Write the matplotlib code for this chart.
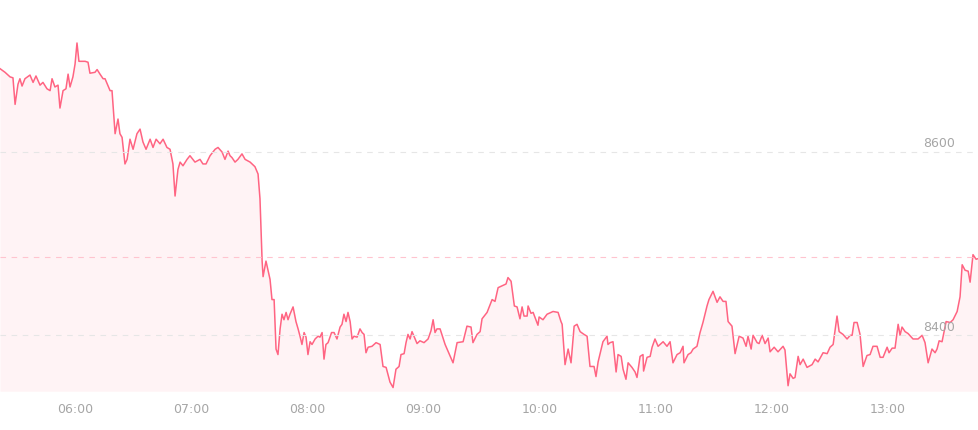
import numpy as np
import matplotlib.pyplot as plt

# minutes since 05:00 and price
minutes = [21.2, 23.8, 26.4, 27.9, 29.0, 30.5, 31.5, 32.6, 34.1, 36.7, 38.3, 39.8, 41.9, 43.4, 45.5, 47.1, 48.1, 49.6, 51.2, 52.2,
           53.8, 55.3, 56.4, 57.4, 58.9, 60.0, 61.0, 62.0, 65.2, 66.7, 67.7, 70.3, 71.4, 72.9, 74.5, 75.5, 78.1, 79.1, 80.7, 82.2,
           83.2, 84.3, 85.8, 86.9, 88.4, 90.0, 92.0, 93.6, 95.1, 96.7, 98.8, 100.3, 101.9, 103.9, 105.5, 107.5, 109.1, 110.6, 111.7, 113.2,
           114.3, 115.8, 117.9, 119.4, 122.0, 124.6, 126.1, 127.7, 129.8, 132.4, 133.9, 136.0, 137.5, 139.1, 140.1, 141.1, 142.7, 144.2, 146.3, 147.9,
           150.5, 153.0, 154.6,
           155.6, 156.7, 157.2, 158.7, 160.8, 161.8, 162.9, 163.9, 164.9, 166.0, 167.0, 168.0, 169.1, 170.1, 171.1, 172.7, 174.2, 175.3, 176.3, 177.3,
           178.4, 179.4, 180.4, 181.5, 182.5, 184.1, 185.6, 186.6, 187.7, 188.7, 189.7, 190.8, 192.6, 193.9, 195.4, 197.0, 198.0, 199.0, 200.1, 201.1,
           202.2, 203.2, 204.2, 205.8, 207.3, 208.4, 209.4, 210.4, 211.5, 213.5, 215.6, 217.7, 219.2, 220.8, 222.8, 224.4, 225.9, 227.5, 228.5, 230.1,
           231.1, 232.1, 233.2, 234.2, 235.2, 236.8, 238.3, 240.4, 242.5, 244.0, 245.1, 246.1, 247.1,
           248.7, 251.3, 255.4, 257.5, 260.6, 262.6, 264.7, 265.7, 267.8, 269.4, 270.4, 273.0, 275.6, 277.1, 278.7, 280.7, 282.8, 283.8, 285.4, 287.1,
           288.5, 290.0, 291.1, 292.1, 293.7, 294.2, 295.7, 296.8, 299.3, 299.9, 301.9, 304.0, 307.1, 309.7, 311.2, 311.8, 313.3, 314.9, 316.4, 318.0,
           319.5, 321.1, 323.1, 324.7, 326.2, 328.3, 329.3, 330.4, 332.9, 335.0, 335.5, 336.6, 338.1, 339.7, 340.7, 342.3, 343.3, 344.8, 345.9, 347.9,
           349.5, 350.5, 352.1, 353.6, 353.9, 355.7, 357.3, 358.3, 359.8, 361.4, 364.0, 366.0, 367.6, 369.1, 371.2, 372.8, 374.3, 374.8, 376.9, 378.4,
           379.5, 381.5, 383.1, 384.6, 386.7, 387.7,
           389.8, 391.9, 393.4, 395.0, 396.5, 397.6, 399.6, 401.2, 403.3, 405.3, 406.9, 407.9, 409.5, 410.5, 412.6, 413.6, 415.2, 416.7, 418.3, 419.3,
           421.4, 423.4, 426.0, 427.0, 428.6, 429.6, 431.2, 432.2, 433.8, 434.8, 436.4, 438.4, 441.0, 442.6, 444.1, 446.7, 448.8, 450.3, 451.9, 453.9,
           455.0, 457.0, 459.1, 460.7, 461.7, 462.7, 464.3, 465.8, 467.4, 469.4, 471.0, 472.5, 474.6, 476.2, 477.7, 479.8, 480.8, 482.4, 483.9, 485.5,
           486.5, 487.5, 489.1, 490.6, 493.2, 495.8, 497.9, 499.4, 501.0, 503.0, 504.6, 505.6, 506.7, 508.2, 510.3, 512.4, 513.9, 516.0, 517.5, 518.6,
           520.1, 521.7, 522.7, 524.2, 525.8, 527.3]
prices = [8691, 8687, 8682, 8681, 8652, 8674, 8680, 8672, 8680, 8684, 8676, 8683, 8673, 8676, 8669, 8667, 8680, 8671, 8673, 8648,
          8667, 8669, 8685, 8671, 8682, 8696, 8719, 8699, 8699, 8698, 8686, 8687, 8690, 8685, 8680, 8680, 8667, 8667, 8620, 8636,
          8620, 8616, 8587, 8592, 8614, 8603, 8620, 8625, 8611, 8603, 8614, 8605, 8614, 8609, 8614, 8605, 8603, 8587, 8552, 8581,
          8589, 8585, 8592, 8596, 8589, 8592, 8587, 8587, 8596, 8603, 8605, 8600, 8592, 8601, 8596, 8594, 8589, 8592, 8598, 8592,
          8589, 8584, 8576,
          8549, 8481, 8464, 8481, 8461, 8439, 8439, 8385, 8379, 8407, 8423, 8417, 8425, 8417, 8423, 8431, 8415, 8407, 8399, 8390,
          8403, 8398, 8379, 8393, 8390, 8396, 8399, 8398, 8403, 8374, 8390, 8392, 8403, 8403, 8396, 8409, 8412, 8423, 8415, 8425,
          8415, 8396, 8399, 8398, 8407, 8403, 8401, 8381, 8387, 8388, 8392, 8390, 8366, 8365, 8349, 8343, 8363, 8366, 8379, 8380,
          8392, 8401, 8396, 8404, 8399, 8391, 8394, 8392, 8396, 8405, 8417, 8403, 8407,
          8407, 8390, 8370, 8392, 8393, 8410, 8409, 8392, 8401, 8404, 8418, 8425, 8439, 8437, 8452, 8454, 8456, 8463, 8459, 8432,
          8431, 8418, 8431, 8421, 8421, 8432, 8424, 8425, 8411, 8420, 8417, 8423, 8426, 8425, 8415, 8412, 8368, 8385, 8370, 8410,
          8412, 8404, 8401, 8399, 8366, 8366, 8355, 8371, 8393, 8399, 8390, 8392, 8393, 8360, 8379, 8377, 8363, 8352, 8370, 8365,
          8360, 8354, 8377, 8379, 8361, 8376, 8377, 8387, 8396, 8388, 8393, 8388, 8393, 8370, 8379, 8381, 8388, 8370, 8379, 8381,
          8385, 8388, 8403, 8414, 8432, 8439,
          8448, 8436, 8442, 8437, 8437, 8415, 8410, 8380, 8399, 8397, 8388, 8399, 8385, 8400, 8392, 8391, 8400, 8391, 8397, 8382,
          8387, 8382, 8388, 8384, 8345, 8358, 8353, 8354, 8377, 8368, 8374, 8365, 8368, 8374, 8371, 8381, 8380, 8387, 8390, 8421,
          8404, 8401, 8396, 8400, 8400, 8414, 8414, 8401, 8366, 8378, 8379, 8388, 8388, 8376, 8376, 8387, 8381, 8386, 8386, 8412,
          8400, 8409, 8404, 8402, 8396, 8396, 8400, 8392, 8370, 8385, 8381, 8385, 8394, 8393, 8415, 8414, 8417, 8426, 8442, 8477,
          8471, 8470, 8458, 8488, 8483, 8484]

ref_price = 8485
tick_minutes = [60, 120, 180, 240, 300, 360, 420, 480]
tick_labels = ["06:00", "07:00", "08:00", "09:00", "10:00", "11:00", "12:00", "13:00"]
y_levels = [8600, 8400]

fig = plt.figure(figsize=(9.79, 4.31), dpi=100)
ax = fig.add_axes([0, 0.09, 1, 0.91])

y_bottom = 8339
ax.fill_between(minutes, prices, y_bottom, color="#fff3f5", lw=0)
ax.plot(minutes, prices, color="#ff6482", lw=1.1)

for lv in y_levels:
    ax.axhline(lv, color="#e6e6e6", lw=0.8, ls=(0, (5, 5)))
    ax.text(0.975, lv + 3, str(lv), transform=ax.get_yaxis_transform(),
            ha="right", va="bottom", color="#a6a6a6", fontsize=9)
ax.axhline(ref_price, color="#ffc4cf", lw=0.8, ls=(0, (5, 5)))

ax.set_xlim(minutes[0], minutes[-1])
ax.set_ylim(y_bottom, 8767)
ax.set_xticks(tick_minutes)
ax.set_xticklabels(tick_labels, color="#a6a6a6", fontsize=9)
ax.tick_params(axis="x", length=0, pad=8)
ax.set_yticks([])
for s in ax.spines.values():
    s.set_visible(False)

fig.savefig("out.png", dpi=100)
